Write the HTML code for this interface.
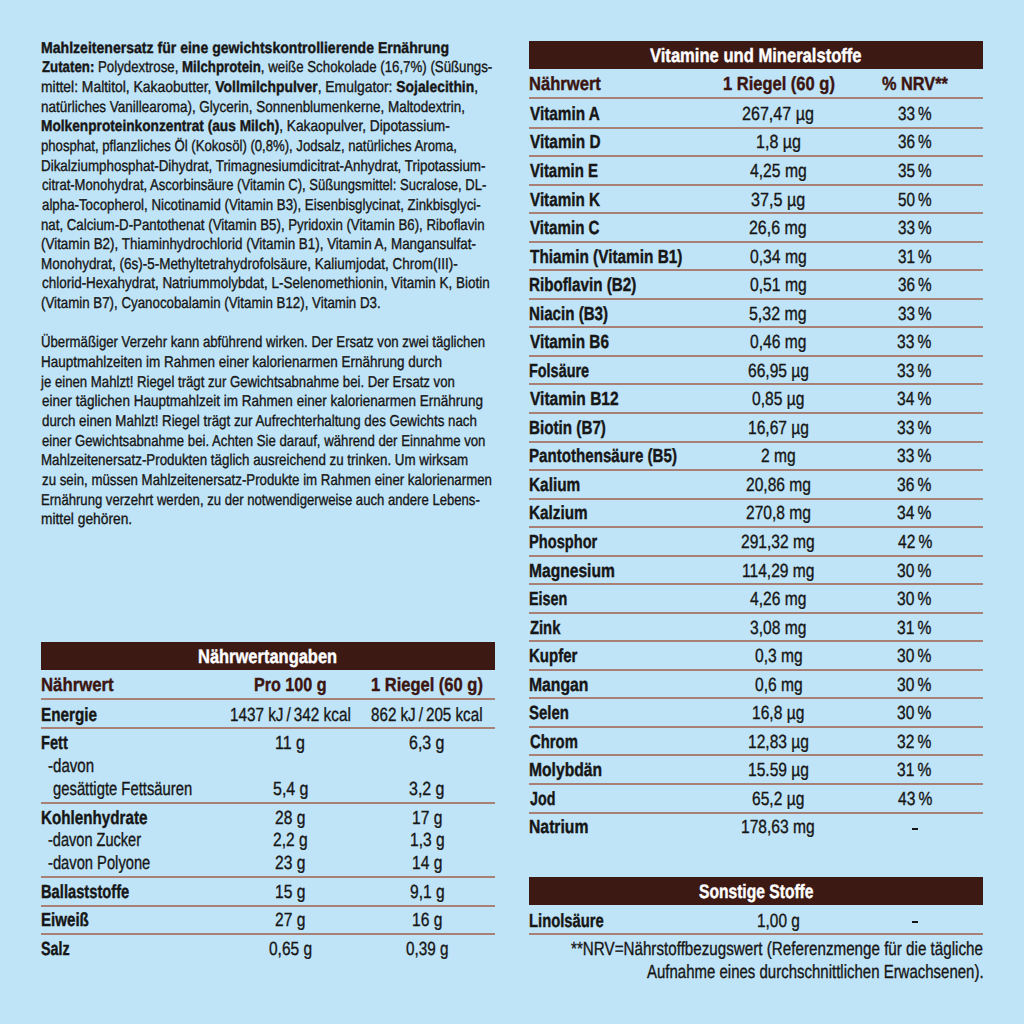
<!DOCTYPE html>
<html lang="de"><head><meta charset="utf-8"><title>Nährwertangaben</title>
<style>
html,body{margin:0;padding:0}
body{width:1024px;height:1024px;overflow:hidden;background:#bfe3f7;position:relative;font-family:"Liberation Sans",sans-serif;text-rendering:geometricPrecision}
div{position:absolute;white-space:nowrap;line-height:1;transform-origin:0 0}
i{position:absolute;display:block}
b{font-weight:700}
.r{-webkit-text-stroke:0.35px currentColor}
.k{-webkit-text-stroke:0.4px currentColor}
.r b{-webkit-text-stroke-width:0.4px}
</style></head><body>
<i style="left:41.00px;top:641.60px;width:454.00px;height:28.20px;background:#3d1913"></i>
<i style="left:41.00px;top:697.60px;width:454.00px;height:2.00px;background:#a98076"></i>
<i style="left:41.00px;top:727.00px;width:454.00px;height:2.00px;background:#a98076"></i>
<i style="left:41.00px;top:801.70px;width:454.00px;height:2.00px;background:#a98076"></i>
<i style="left:41.00px;top:876.20px;width:454.00px;height:2.00px;background:#a98076"></i>
<i style="left:41.00px;top:904.60px;width:454.00px;height:2.00px;background:#a98076"></i>
<i style="left:41.00px;top:933.20px;width:454.00px;height:2.00px;background:#a98076"></i>
<i style="left:529.30px;top:41.00px;width:453.90px;height:28.40px;background:#3d1913"></i>
<i style="left:529.30px;top:97.10px;width:453.90px;height:2.00px;background:#a98076"></i>
<i style="left:529.30px;top:126.60px;width:453.90px;height:2.00px;background:#a98076"></i>
<i style="left:529.30px;top:155.14px;width:453.90px;height:2.00px;background:#a98076"></i>
<i style="left:529.30px;top:183.68px;width:453.90px;height:2.00px;background:#a98076"></i>
<i style="left:529.30px;top:212.22px;width:453.90px;height:2.00px;background:#a98076"></i>
<i style="left:529.30px;top:240.76px;width:453.90px;height:2.00px;background:#a98076"></i>
<i style="left:529.30px;top:269.30px;width:453.90px;height:2.00px;background:#a98076"></i>
<i style="left:529.30px;top:297.84px;width:453.90px;height:2.00px;background:#a98076"></i>
<i style="left:529.30px;top:326.38px;width:453.90px;height:2.00px;background:#a98076"></i>
<i style="left:529.30px;top:354.92px;width:453.90px;height:2.00px;background:#a98076"></i>
<i style="left:529.30px;top:383.46px;width:453.90px;height:2.00px;background:#a98076"></i>
<i style="left:529.30px;top:412.00px;width:453.90px;height:2.00px;background:#a98076"></i>
<i style="left:529.30px;top:440.54px;width:453.90px;height:2.00px;background:#a98076"></i>
<i style="left:529.30px;top:469.08px;width:453.90px;height:2.00px;background:#a98076"></i>
<i style="left:529.30px;top:497.62px;width:453.90px;height:2.00px;background:#a98076"></i>
<i style="left:529.30px;top:526.16px;width:453.90px;height:2.00px;background:#a98076"></i>
<i style="left:529.30px;top:554.70px;width:453.90px;height:2.00px;background:#a98076"></i>
<i style="left:529.30px;top:583.24px;width:453.90px;height:2.00px;background:#a98076"></i>
<i style="left:529.30px;top:611.78px;width:453.90px;height:2.00px;background:#a98076"></i>
<i style="left:529.30px;top:640.32px;width:453.90px;height:2.00px;background:#a98076"></i>
<i style="left:529.30px;top:668.86px;width:453.90px;height:2.00px;background:#a98076"></i>
<i style="left:529.30px;top:697.40px;width:453.90px;height:2.00px;background:#a98076"></i>
<i style="left:529.30px;top:725.94px;width:453.90px;height:2.00px;background:#a98076"></i>
<i style="left:529.30px;top:754.48px;width:453.90px;height:2.00px;background:#a98076"></i>
<i style="left:529.30px;top:783.02px;width:453.90px;height:2.00px;background:#a98076"></i>
<i style="left:529.30px;top:811.56px;width:453.90px;height:2.00px;background:#a98076"></i>
<i style="left:912.00px;top:828.10px;width:6.00px;height:2.00px;background:#161616"></i>
<i style="left:529.30px;top:876.90px;width:453.90px;height:28.40px;background:#3d1913"></i>
<i style="left:912.00px;top:921.30px;width:6.00px;height:2.00px;background:#161616"></i>
<i style="left:529.30px;top:933.40px;width:453.90px;height:2.00px;background:#a98076"></i>
<div class="r" style="left:40.90px;top:41px;font-size:15.7px;font-weight:400;color:#161616;transform:scaleX(0.8967)"><b>Mahlzeitenersatz für eine gewichtskontrollierende Ernährung</b></div>
<div class="r" style="left:41.80px;top:60px;font-size:15.7px;font-weight:400;color:#161616;transform:scaleX(0.8453)"><b>Zutaten:</b> Polydextrose, <b>Milchprotein</b>, weiße Schokolade (16,7%) (Süßungs-</div>
<div class="r" style="left:40.92px;top:80px;font-size:15.7px;font-weight:400;color:#161616;transform:scaleX(0.8846)">mittel: Maltitol, Kakaobutter, <b>Vollmilchpulver</b>, Emulgator: <b>Sojalecithin</b>,</div>
<div class="r" style="left:40.94px;top:100px;font-size:15.7px;font-weight:400;color:#161616;transform:scaleX(0.8581)">natürliches Vanillearoma), Glycerin, Sonnenblumenkerne, Maltodextrin,</div>
<div class="r" style="left:40.93px;top:119px;font-size:15.7px;font-weight:400;color:#161616;transform:scaleX(0.8732)"><b>Molkenproteinkonzentrat (aus Milch)</b>, Kakaopulver, Dipotassium-</div>
<div class="r" style="left:40.96px;top:139px;font-size:15.7px;font-weight:400;color:#161616;transform:scaleX(0.8368)">phosphat, pflanzliches Öl (Kokosöl) (0,8%), Jodsalz, natürliches Aroma,</div>
<div class="r" style="left:40.95px;top:159px;font-size:15.7px;font-weight:400;color:#161616;transform:scaleX(0.8539)">Dikalziumphosphat-Dihydrat, Trimagnesiumdicitrat-Anhydrat, Tripotassium-</div>
<div class="r" style="left:41.80px;top:178px;font-size:15.7px;font-weight:400;color:#161616;transform:scaleX(0.8318)">citrat-Monohydrat, Ascorbinsäure (Vitamin C), Süßungsmittel: Sucralose, DL-</div>
<div class="r" style="left:41.80px;top:198px;font-size:15.7px;font-weight:400;color:#161616;transform:scaleX(0.8476)">alpha-Tocopherol, Nicotinamid (Vitamin B3), Eisenbisglycinat, Zinkbisglyci-</div>
<div class="r" style="left:40.96px;top:218px;font-size:15.7px;font-weight:400;color:#161616;transform:scaleX(0.8448)">nat, Calcium-D-Pantothenat (Vitamin B5), Pyridoxin (Vitamin B6), Riboflavin</div>
<div class="r" style="left:40.95px;top:237px;font-size:15.7px;font-weight:400;color:#161616;transform:scaleX(0.8547)">(Vitamin B2), Thiaminhydrochlorid (Vitamin B1), Vitamin A, Mangansulfat-</div>
<div class="r" style="left:40.94px;top:257px;font-size:15.7px;font-weight:400;color:#161616;transform:scaleX(0.8579)">Monohydrat, (6s)-5-Methyltetrahydrofolsäure, Kaliumjodat, Chrom(III)-</div>
<div class="r" style="left:41.80px;top:276px;font-size:15.7px;font-weight:400;color:#161616;transform:scaleX(0.8576)">chlorid-Hexahydrat, Natriummolybdat, L-Selenomethionin, Vitamin K, Biotin</div>
<div class="r" style="left:40.95px;top:296px;font-size:15.7px;font-weight:400;color:#161616;transform:scaleX(0.8487)">(Vitamin B7), Cyanocobalamin (Vitamin B12), Vitamin D3.</div>
<div class="r" style="left:40.96px;top:335px;font-size:15.7px;font-weight:400;color:#161616;transform:scaleX(0.8405)">Übermäßiger Verzehr kann abführend wirken. Der Ersatz von zwei täglichen</div>
<div class="r" style="left:40.94px;top:355px;font-size:15.7px;font-weight:400;color:#161616;transform:scaleX(0.8596)">Hauptmahlzeiten im Rahmen einer kalorienarmen Ernährung durch</div>
<div class="r" style="left:41.44px;top:375px;font-size:15.7px;font-weight:400;color:#161616;transform:scaleX(0.8401)">je einen Mahlzt! Riegel trägt zur Gewichtsabnahme bei. Der Ersatz von</div>
<div class="r" style="left:41.80px;top:394px;font-size:15.7px;font-weight:400;color:#161616;transform:scaleX(0.8614)">einer täglichen Hauptmahlzeit im Rahmen einer kalorienarmen Ernährung</div>
<div class="r" style="left:41.80px;top:414px;font-size:15.7px;font-weight:400;color:#161616;transform:scaleX(0.8497)">durch einen Mahlzt! Riegel trägt zur Aufrechterhaltung des Gewichts nach</div>
<div class="r" style="left:41.80px;top:434px;font-size:15.7px;font-weight:400;color:#161616;transform:scaleX(0.8405)">einer Gewichtsabnahme bei. Achten Sie darauf, während der Einnahme von</div>
<div class="r" style="left:40.95px;top:453px;font-size:15.7px;font-weight:400;color:#161616;transform:scaleX(0.8507)">Mahlzeitenersatz-Produkten täglich ausreichend zu trinken. Um wirksam</div>
<div class="r" style="left:41.80px;top:473px;font-size:15.7px;font-weight:400;color:#161616;transform:scaleX(0.8460)">zu sein, müssen Mahlzeitenersatz-Produkte im Rahmen einer kalorienarmen</div>
<div class="r" style="left:40.96px;top:493px;font-size:15.7px;font-weight:400;color:#161616;transform:scaleX(0.8358)">Ernährung verzehrt werden, zu der notwendigerweise auch andere Lebens-</div>
<div class="r" style="left:40.92px;top:512px;font-size:15.7px;font-weight:400;color:#161616;transform:scaleX(0.8784)">mittel gehören.</div>
<div class="k" style="left:198.31px;top:648px;font-size:19.5px;font-weight:700;color:#ffffff;transform:scaleX(0.8448)">Nährwertangaben</div>
<div class="k" style="left:40.72px;top:676px;font-size:19.0px;font-weight:700;color:#3b1510;transform:scaleX(0.8815)">Nährwert</div>
<div class="k" style="left:253.90px;top:676px;font-size:19.0px;font-weight:700;color:#3b1510;transform:scaleX(0.8488)">Pro 100 g</div>
<div class="k" style="left:370.98px;top:676px;font-size:19.0px;font-weight:700;color:#3b1510;transform:scaleX(0.8685)">1 Riegel (60 g)</div>
<div class="k" style="left:40.80px;top:706px;font-size:19.0px;font-weight:700;color:#161616;transform:scaleX(0.8029)">Energie</div>
<div class="r" style="left:230.00px;top:706px;font-size:19.0px;font-weight:400;color:#161616;transform:scaleX(0.8041)">1437 kJ / 342 kcal</div>
<div class="r" style="left:371.00px;top:706px;font-size:19.0px;font-weight:400;color:#161616;transform:scaleX(0.7986)">862 kJ / 205 kcal</div>
<div class="k" style="left:40.83px;top:734px;font-size:19.0px;font-weight:700;color:#161616;transform:scaleX(0.7676)">Fett</div>
<div class="r" style="left:275.11px;top:734px;font-size:19.0px;font-weight:400;color:#161616;transform:scaleX(0.8441)">11 g</div>
<div class="r" style="left:409.26px;top:734px;font-size:19.0px;font-weight:400;color:#161616;transform:scaleX(0.8400)">6,3 g</div>
<div class="r" style="left:47.91px;top:757px;font-size:19.0px;font-weight:400;color:#161616;transform:scaleX(0.7929)">-davon</div>
<div class="r" style="left:52.52px;top:780px;font-size:19.0px;font-weight:400;color:#161616;transform:scaleX(0.7797)">gesättigte Fettsäuren</div>
<div class="r" style="left:272.66px;top:780px;font-size:19.0px;font-weight:400;color:#161616;transform:scaleX(0.8400)">5,4 g</div>
<div class="r" style="left:409.26px;top:780px;font-size:19.0px;font-weight:400;color:#161616;transform:scaleX(0.8400)">3,2 g</div>
<div class="k" style="left:40.80px;top:809px;font-size:19.0px;font-weight:700;color:#161616;transform:scaleX(0.8000)">Kohlenhydrate</div>
<div class="r" style="left:275.13px;top:809px;font-size:19.0px;font-weight:400;color:#161616;transform:scaleX(0.8200)">28 g</div>
<div class="r" style="left:411.73px;top:809px;font-size:19.0px;font-weight:400;color:#161616;transform:scaleX(0.8200)">17 g</div>
<div class="r" style="left:47.93px;top:831px;font-size:19.0px;font-weight:400;color:#161616;transform:scaleX(0.7658)">-davon Zucker</div>
<div class="r" style="left:273.08px;top:831px;font-size:19.0px;font-weight:400;color:#161616;transform:scaleX(0.8200)">2,2 g</div>
<div class="r" style="left:409.68px;top:831px;font-size:19.0px;font-weight:400;color:#161616;transform:scaleX(0.8200)">1,3 g</div>
<div class="r" style="left:47.93px;top:854px;font-size:19.0px;font-weight:400;color:#161616;transform:scaleX(0.7748)">-davon Polyone</div>
<div class="r" style="left:275.13px;top:854px;font-size:19.0px;font-weight:400;color:#161616;transform:scaleX(0.8200)">23 g</div>
<div class="r" style="left:411.73px;top:854px;font-size:19.0px;font-weight:400;color:#161616;transform:scaleX(0.8200)">14 g</div>
<div class="k" style="left:40.83px;top:883px;font-size:19.0px;font-weight:700;color:#161616;transform:scaleX(0.7743)">Ballaststoffe</div>
<div class="r" style="left:275.13px;top:883px;font-size:19.0px;font-weight:400;color:#161616;transform:scaleX(0.8200)">15 g</div>
<div class="r" style="left:409.68px;top:883px;font-size:19.0px;font-weight:400;color:#161616;transform:scaleX(0.8200)">9,1 g</div>
<div class="k" style="left:40.81px;top:911px;font-size:19.0px;font-weight:700;color:#161616;transform:scaleX(0.7949)">Eiweiß</div>
<div class="r" style="left:275.13px;top:911px;font-size:19.0px;font-weight:400;color:#161616;transform:scaleX(0.8200)">27 g</div>
<div class="r" style="left:411.73px;top:911px;font-size:19.0px;font-weight:400;color:#161616;transform:scaleX(0.8200)">16 g</div>
<div class="k" style="left:40.85px;top:940px;font-size:19.0px;font-weight:700;color:#161616;transform:scaleX(0.7541)">Salz</div>
<div class="r" style="left:269.10px;top:940px;font-size:19.0px;font-weight:400;color:#161616;transform:scaleX(0.8154)">0,65 g</div>
<div class="r" style="left:406.00px;top:940px;font-size:19.0px;font-weight:400;color:#161616;transform:scaleX(0.8038)">0,39 g</div>
<div class="k" style="left:650.40px;top:47px;font-size:19.5px;font-weight:700;color:#ffffff;transform:scaleX(0.8502)">Vitamine und Mineralstoffe</div>
<div class="k" style="left:529.43px;top:75px;font-size:19.0px;font-weight:700;color:#3b1510;transform:scaleX(0.8728)">Nährwert</div>
<div class="k" style="left:723.18px;top:75px;font-size:19.0px;font-weight:700;color:#3b1510;transform:scaleX(0.8685)">1 Riegel (60 g)</div>
<div class="k" style="left:881.65px;top:75px;font-size:19.0px;font-weight:700;color:#3b1510;transform:scaleX(0.8584)">% NRV**</div>
<div class="k" style="left:529.90px;top:105px;font-size:19.0px;font-weight:700;color:#161616;transform:scaleX(0.8058)">Vitamin A</div>
<div class="r" style="left:742.30px;top:105px;font-size:19.0px;font-weight:400;color:#161616;transform:scaleX(0.8470)">267,47 µg</div>
<div class="r" style="left:897.80px;top:105px;font-size:19.0px;font-weight:400;color:#161616;transform:scaleX(0.8049)">33 %</div>
<div class="k" style="left:529.90px;top:133px;font-size:19.0px;font-weight:700;color:#161616;transform:scaleX(0.8080)">Vitamin D</div>
<div class="r" style="left:755.90px;top:133px;font-size:19.0px;font-weight:400;color:#161616;transform:scaleX(0.8451)">1,8 µg</div>
<div class="r" style="left:897.80px;top:133px;font-size:19.0px;font-weight:400;color:#161616;transform:scaleX(0.8049)">36 %</div>
<div class="k" style="left:529.90px;top:162px;font-size:19.0px;font-weight:700;color:#161616;transform:scaleX(0.7884)">Vitamin E</div>
<div class="r" style="left:750.20px;top:162px;font-size:19.0px;font-weight:400;color:#161616;transform:scaleX(0.8265)">4,25 mg</div>
<div class="r" style="left:897.80px;top:162px;font-size:19.0px;font-weight:400;color:#161616;transform:scaleX(0.8049)">35 %</div>
<div class="k" style="left:529.90px;top:191px;font-size:19.0px;font-weight:700;color:#161616;transform:scaleX(0.8011)">Vitamin K</div>
<div class="r" style="left:751.10px;top:191px;font-size:19.0px;font-weight:400;color:#161616;transform:scaleX(0.8500)">37,5 µg</div>
<div class="r" style="left:897.80px;top:191px;font-size:19.0px;font-weight:400;color:#161616;transform:scaleX(0.8049)">50 %</div>
<div class="k" style="left:529.90px;top:219px;font-size:19.0px;font-weight:700;color:#161616;transform:scaleX(0.7966)">Vitamin C</div>
<div class="r" style="left:749.36px;top:219px;font-size:19.0px;font-weight:400;color:#161616;transform:scaleX(0.8388)">26,6 mg</div>
<div class="r" style="left:897.80px;top:219px;font-size:19.0px;font-weight:400;color:#161616;transform:scaleX(0.8049)">33 %</div>
<div class="k" style="left:529.90px;top:248px;font-size:19.0px;font-weight:700;color:#161616;transform:scaleX(0.8080)">Thiamin (Vitamin B1)</div>
<div class="r" style="left:750.20px;top:248px;font-size:19.0px;font-weight:400;color:#161616;transform:scaleX(0.8265)">0,34 mg</div>
<div class="r" style="left:897.80px;top:248px;font-size:19.0px;font-weight:400;color:#161616;transform:scaleX(0.8049)">31 %</div>
<div class="k" style="left:529.10px;top:276px;font-size:19.0px;font-weight:700;color:#161616;transform:scaleX(0.8000)">Riboflavin (B2)</div>
<div class="r" style="left:750.20px;top:276px;font-size:19.0px;font-weight:400;color:#161616;transform:scaleX(0.8265)">0,51 mg</div>
<div class="r" style="left:897.80px;top:276px;font-size:19.0px;font-weight:400;color:#161616;transform:scaleX(0.8049)">36 %</div>
<div class="k" style="left:529.10px;top:305px;font-size:19.0px;font-weight:700;color:#161616;transform:scaleX(0.7969)">Niacin (B3)</div>
<div class="r" style="left:749.36px;top:305px;font-size:19.0px;font-weight:400;color:#161616;transform:scaleX(0.8388)">5,32 mg</div>
<div class="r" style="left:897.80px;top:305px;font-size:19.0px;font-weight:400;color:#161616;transform:scaleX(0.8049)">33 %</div>
<div class="k" style="left:529.90px;top:333px;font-size:19.0px;font-weight:700;color:#161616;transform:scaleX(0.8071)">Vitamin B6</div>
<div class="r" style="left:750.42px;top:333px;font-size:19.0px;font-weight:400;color:#161616;transform:scaleX(0.8200)">0,46 mg</div>
<div class="r" style="left:897.47px;top:333px;font-size:19.0px;font-weight:400;color:#161616;transform:scaleX(0.8200)">33 %</div>
<div class="k" style="left:529.14px;top:362px;font-size:19.0px;font-weight:700;color:#161616;transform:scaleX(0.7590)">Folsäure</div>
<div class="r" style="left:747.96px;top:362px;font-size:19.0px;font-weight:400;color:#161616;transform:scaleX(0.8200)">66,95 µg</div>
<div class="r" style="left:897.47px;top:362px;font-size:19.0px;font-weight:400;color:#161616;transform:scaleX(0.8200)">33 %</div>
<div class="k" style="left:529.90px;top:390px;font-size:19.0px;font-weight:700;color:#161616;transform:scaleX(0.8176)">Vitamin B12</div>
<div class="r" style="left:752.47px;top:390px;font-size:19.0px;font-weight:400;color:#161616;transform:scaleX(0.8200)">0,85 µg</div>
<div class="r" style="left:897.47px;top:390px;font-size:19.0px;font-weight:400;color:#161616;transform:scaleX(0.8200)">34 %</div>
<div class="k" style="left:529.10px;top:419px;font-size:19.0px;font-weight:700;color:#161616;transform:scaleX(0.8011)">Biotin (B7)</div>
<div class="r" style="left:747.96px;top:419px;font-size:19.0px;font-weight:400;color:#161616;transform:scaleX(0.8200)">16,67 µg</div>
<div class="r" style="left:897.47px;top:419px;font-size:19.0px;font-weight:400;color:#161616;transform:scaleX(0.8200)">33 %</div>
<div class="k" style="left:529.10px;top:447px;font-size:19.0px;font-weight:700;color:#161616;transform:scaleX(0.7962)">Pantothensäure (B5)</div>
<div class="r" style="left:761.08px;top:447px;font-size:19.0px;font-weight:400;color:#161616;transform:scaleX(0.8200)">2 mg</div>
<div class="r" style="left:897.47px;top:447px;font-size:19.0px;font-weight:400;color:#161616;transform:scaleX(0.8200)">33 %</div>
<div class="k" style="left:529.09px;top:476px;font-size:19.0px;font-weight:700;color:#161616;transform:scaleX(0.8097)">Kalium</div>
<div class="r" style="left:745.91px;top:476px;font-size:19.0px;font-weight:400;color:#161616;transform:scaleX(0.8200)">20,86 mg</div>
<div class="r" style="left:897.47px;top:476px;font-size:19.0px;font-weight:400;color:#161616;transform:scaleX(0.8200)">36 %</div>
<div class="k" style="left:529.09px;top:504px;font-size:19.0px;font-weight:700;color:#161616;transform:scaleX(0.8056)">Kalzium</div>
<div class="r" style="left:745.91px;top:504px;font-size:19.0px;font-weight:400;color:#161616;transform:scaleX(0.8200)">270,8 mg</div>
<div class="r" style="left:897.47px;top:504px;font-size:19.0px;font-weight:400;color:#161616;transform:scaleX(0.8200)">34 %</div>
<div class="k" style="left:529.13px;top:533px;font-size:19.0px;font-weight:700;color:#161616;transform:scaleX(0.7705)">Phosphor</div>
<div class="r" style="left:741.40px;top:533px;font-size:19.0px;font-weight:400;color:#161616;transform:scaleX(0.8200)">291,32 mg</div>
<div class="r" style="left:897.88px;top:533px;font-size:19.0px;font-weight:400;color:#161616;transform:scaleX(0.8200)">42 %</div>
<div class="k" style="left:529.08px;top:562px;font-size:19.0px;font-weight:700;color:#161616;transform:scaleX(0.8214)">Magnesium</div>
<div class="r" style="left:742.22px;top:562px;font-size:19.0px;font-weight:400;color:#161616;transform:scaleX(0.8200)">114,29 mg</div>
<div class="r" style="left:897.47px;top:562px;font-size:19.0px;font-weight:400;color:#161616;transform:scaleX(0.8200)">30 %</div>
<div class="k" style="left:529.14px;top:590px;font-size:19.0px;font-weight:700;color:#161616;transform:scaleX(0.7571)">Eisen</div>
<div class="r" style="left:750.42px;top:590px;font-size:19.0px;font-weight:400;color:#161616;transform:scaleX(0.8200)">4,26 mg</div>
<div class="r" style="left:897.47px;top:590px;font-size:19.0px;font-weight:400;color:#161616;transform:scaleX(0.8200)">30 %</div>
<div class="k" style="left:529.90px;top:619px;font-size:19.0px;font-weight:700;color:#161616;transform:scaleX(0.7769)">Zink</div>
<div class="r" style="left:750.01px;top:619px;font-size:19.0px;font-weight:400;color:#161616;transform:scaleX(0.8200)">3,08 mg</div>
<div class="r" style="left:897.47px;top:619px;font-size:19.0px;font-weight:400;color:#161616;transform:scaleX(0.8200)">31 %</div>
<div class="k" style="left:529.11px;top:647px;font-size:19.0px;font-weight:700;color:#161616;transform:scaleX(0.7900)">Kupfer</div>
<div class="r" style="left:754.93px;top:647px;font-size:19.0px;font-weight:400;color:#161616;transform:scaleX(0.8200)">0,3 mg</div>
<div class="r" style="left:897.47px;top:647px;font-size:19.0px;font-weight:400;color:#161616;transform:scaleX(0.8200)">30 %</div>
<div class="k" style="left:529.07px;top:676px;font-size:19.0px;font-weight:700;color:#161616;transform:scaleX(0.8286)">Mangan</div>
<div class="r" style="left:754.93px;top:676px;font-size:19.0px;font-weight:400;color:#161616;transform:scaleX(0.8200)">0,6 mg</div>
<div class="r" style="left:897.47px;top:676px;font-size:19.0px;font-weight:400;color:#161616;transform:scaleX(0.8200)">30 %</div>
<div class="k" style="left:529.11px;top:704px;font-size:19.0px;font-weight:700;color:#161616;transform:scaleX(0.7857)">Selen</div>
<div class="r" style="left:752.06px;top:704px;font-size:19.0px;font-weight:400;color:#161616;transform:scaleX(0.8200)">16,8 µg</div>
<div class="r" style="left:897.47px;top:704px;font-size:19.0px;font-weight:400;color:#161616;transform:scaleX(0.8200)">30 %</div>
<div class="k" style="left:529.90px;top:733px;font-size:19.0px;font-weight:700;color:#161616;transform:scaleX(0.7817)">Chrom</div>
<div class="r" style="left:747.96px;top:733px;font-size:19.0px;font-weight:400;color:#161616;transform:scaleX(0.8200)">12,83 µg</div>
<div class="r" style="left:897.47px;top:733px;font-size:19.0px;font-weight:400;color:#161616;transform:scaleX(0.8200)">32 %</div>
<div class="k" style="left:529.08px;top:761px;font-size:19.0px;font-weight:700;color:#161616;transform:scaleX(0.8241)">Molybdän</div>
<div class="r" style="left:747.96px;top:761px;font-size:19.0px;font-weight:400;color:#161616;transform:scaleX(0.8200)">15.59 µg</div>
<div class="r" style="left:897.47px;top:761px;font-size:19.0px;font-weight:400;color:#161616;transform:scaleX(0.8200)">31 %</div>
<div class="k" style="left:529.90px;top:790px;font-size:19.0px;font-weight:700;color:#161616;transform:scaleX(0.7515)">Jod</div>
<div class="r" style="left:752.06px;top:790px;font-size:19.0px;font-weight:400;color:#161616;transform:scaleX(0.8200)">65,2 µg</div>
<div class="r" style="left:897.88px;top:790px;font-size:19.0px;font-weight:400;color:#161616;transform:scaleX(0.8200)">43 %</div>
<div class="k" style="left:529.07px;top:818px;font-size:19.0px;font-weight:700;color:#161616;transform:scaleX(0.8286)">Natrium</div>
<div class="r" style="left:741.40px;top:818px;font-size:19.0px;font-weight:400;color:#161616;transform:scaleX(0.8200)">178,63 mg</div>
<div class="k" style="left:698.60px;top:883px;font-size:19.5px;font-weight:700;color:#ffffff;transform:scaleX(0.8007)">Sonstige Stoffe</div>
<div class="k" style="left:529.12px;top:912px;font-size:19.0px;font-weight:700;color:#161616;transform:scaleX(0.7779)">Linolsäure</div>
<div class="r" style="left:757.19px;top:912px;font-size:19.0px;font-weight:400;color:#161616;transform:scaleX(0.8118)">1,00 g</div>
<div class="r" style="left:570.70px;top:940px;font-size:19.0px;font-weight:400;color:#161616;transform:scaleX(0.7996)">**NRV=Nährstoffbezugswert (Referenzmenge für die tägliche</div>
<div class="r" style="left:647.20px;top:963px;font-size:19.0px;font-weight:400;color:#161616;transform:scaleX(0.7889)">Aufnahme eines durchschnittlichen Erwachsenen).</div>
</body></html>
